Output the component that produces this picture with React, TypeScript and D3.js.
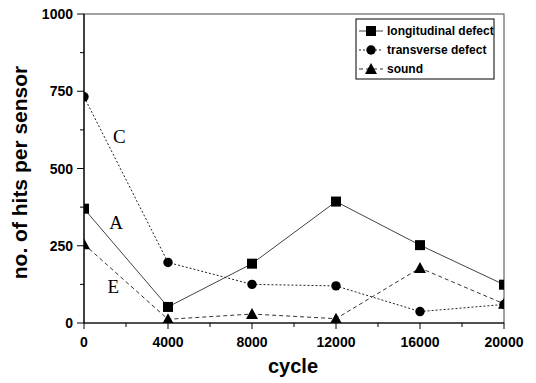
import React from "react";
import * as d3 from "d3";

const cycles = [0, 4000, 8000, 12000, 16000, 20000];
const longitudinal = [370, 52, 192, 393, 252, 124];
const transverse = [732, 196, 125, 120, 37, 60];
const sound = [255, 12, 29, 14, 178, 62];
const xTicks = [0, 4000, 8000, 12000, 16000, 20000];
const yTicks = [0, 250, 500, 750, 1000];
const seriesNames = ["longitudinal defect", "transverse defect", "sound"];
const curveLabels = [
  { text: "C", x: 1680, y: 604 },
  { text: "A", x: 1530, y: 325 },
  { text: "E", x: 1390, y: 118 },
];

const W = 536;
const H = 383;
const left = 84, right = 504, top = 14, bottom = 323;
const sans = "'Liberation Sans', Arial, sans-serif";
const serif = "'Liberation Serif', 'Times New Roman', serif";

type Kind = "square" | "circle" | "triangle";

function Marker({ kind, x, y }: { kind: Kind; x: number; y: number }) {
  if (kind === "square") return <rect x={x - 5} y={y - 5} width={10} height={10} fill="#000" />;
  if (kind === "circle") return <circle cx={x} cy={y} r={4.7} fill="#000" />;
  return <path d={`M${x},${y - 6}L${x + 6},${y + 5}L${x - 6},${y + 5}Z`} fill="#000" />;
}

export default function App() {
  const x = d3.scaleLinear().domain([0, 20000]).range([left, right]);
  const y = d3.scaleLinear().domain([0, 1000]).range([bottom, top]);
  const line = d3
    .line<number>()
    .x((_, i) => x(cycles[i]))
    .y((d) => y(d));

  const series = [
    { name: seriesNames[0], values: longitudinal, kind: "square" as Kind, dash: "none", stroke: "#444" },
    { name: seriesNames[1], values: transverse, kind: "circle" as Kind, dash: "2,2", stroke: "#222" },
    { name: seriesNames[2], values: sound, kind: "triangle" as Kind, dash: "4,3", stroke: "#333" },
  ];

  const xMinor = d3.range(2000, 20000, 4000);
  const yMinor = d3.range(125, 1000, 250);

  return (
    <svg width={W} height={H} style={{ position: "absolute", left: 0, top: 0, background: "#fff" }}>
      <defs>
        <clipPath id="plot">
          <rect x={left} y={top} width={right - left} height={bottom - top} />
        </clipPath>
      </defs>

      {/* frame */}
      <rect x={left} y={top} width={right - left} height={bottom - top} fill="none" stroke="#444" strokeWidth={1} />
      <line x1={left} x2={left} y1={top} y2={bottom} stroke="#000" strokeWidth={1.2} />
      <line x1={left} x2={right} y1={bottom} y2={bottom} stroke="#000" strokeWidth={1.2} />

      {/* y ticks */}
      {yTicks.map((t) => (
        <g key={"yt" + t}>
          <line x1={left - 7} x2={left} y1={y(t)} y2={y(t)} stroke="#000" />
          <text x={left - 11} y={y(t)} dy="0.36em" textAnchor="end" fontFamily={sans} fontWeight="bold" fontSize={14}>
            {t}
          </text>
        </g>
      ))}
      {yMinor.map((t) => (
        <line key={"ym" + t} x1={left - 4} x2={left} y1={y(t)} y2={y(t)} stroke="#000" />
      ))}

      {/* x ticks */}
      {xTicks.map((t) => (
        <g key={"xt" + t}>
          <line x1={x(t)} x2={x(t)} y1={bottom} y2={bottom + 6} stroke="#000" />
          <text x={x(t)} y={bottom + 24} textAnchor="middle" fontFamily={sans} fontWeight="bold" fontSize={14}>
            {t}
          </text>
        </g>
      ))}
      {xMinor.map((t) => (
        <line key={"xm" + t} x1={x(t)} x2={x(t)} y1={bottom} y2={bottom + 4} stroke="#000" />
      ))}

      {/* axis titles */}
      <text x={293} y={373} textAnchor="middle" fontFamily={sans} fontWeight="bold" fontSize={20}>
        cycle
      </text>
      <text
        transform={`translate(27,${(top + bottom) / 2 + 4}) rotate(-90)`}
        textAnchor="middle"
        fontFamily={sans}
        fontWeight="bold"
        fontSize={21}
      >
        no. of hits per sensor
      </text>

      {/* series */}
      <g clipPath="url(#plot)">
        {series.map((s) => (
          <path
            key={s.name}
            d={line(s.values) || ""}
            fill="none"
            stroke={s.stroke}
            strokeWidth={1}
            strokeDasharray={s.dash}
          />
        ))}
        {series.map((s) =>
          s.values.map((v, i) => <Marker key={s.name + i} kind={s.kind} x={x(cycles[i])} y={y(v)} />)
        )}
      </g>

      {/* curve labels */}
      {curveLabels.map((c) => (
        <text key={c.text} x={x(c.x)} y={y(c.y)} dy="0.35em" textAnchor="middle" fontFamily={serif} fontSize={19}>
          {c.text}
        </text>
      ))}

      {/* legend */}
      <rect x={356} y={19} width={138} height={60} fill="#fff" stroke="#000" strokeWidth={1} />
      {series.map((s, i) => {
        const cy = 31 + i * 19;
        return (
          <g key={"lg" + s.name}>
            <line x1={359} x2={383} y1={cy} y2={cy} stroke={s.stroke} strokeWidth={1} strokeDasharray={s.dash} />
            <Marker kind={s.kind} x={371} y={cy} />
            <text x={387} y={cy} dy="0.36em" fontFamily={sans} fontWeight="bold" fontSize={12}>
              {s.name}
            </text>
          </g>
        );
      })}
    </svg>
  );
}
